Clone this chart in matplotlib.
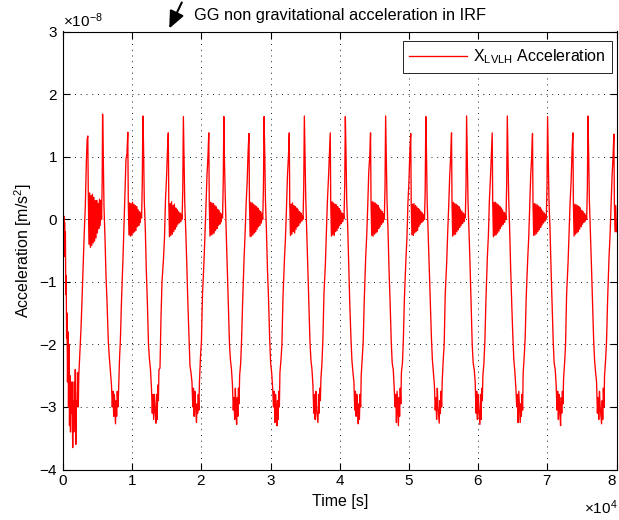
import numpy as np
import matplotlib
matplotlib.use("Agg")
import matplotlib.pyplot as plt
from matplotlib.ticker import ScalarFormatter

plt.rcParams['font.family'] = ['Liberation Sans', 'DejaVu Sans']
plt.rcParams['mathtext.fontset'] = 'custom'
plt.rcParams['mathtext.rm'] = 'Liberation Sans'
plt.rcParams['mathtext.it'] = 'Liberation Sans:italic'
plt.rcParams['mathtext.default'] = 'regular'
plt.rcParams['axes.unicode_minus'] = False

# acceleration values are in units of 1e-8 m/s^2, time in s

# start-up transient and first orbit (read point by point)
start_t = [0, 58, 116, 173, 231, 289, 347, 405, 462, 520,
           578, 650, 723, 795, 867, 939, 1012, 1084, 1156, 1228,
           1301, 1402, 1474, 1561, 1633, 1705, 1777, 1850, 1922, 2023,
           2095, 2211, 2283, 2457, 2601, 2746, 2933, 3078, 3223, 3396,
           3497, 3584, 3656, 3757, 3858, 3959, 4060, 4162, 4263, 4364,
           4465, 4566, 4667, 4769, 4870, 4971, 5072, 5173, 5274, 5375,
           5477, 5578, 5664, 5722, 5809, 5925, 6069, 6214, 6358, 6546,
           6690, 6864, 7008, 7124, 7225, 7326, 7427, 7514]
start_v = [0.70, -0.50, 0.05, -0.55, -0.05, -0.60, -0.20, -1.20, -0.90, -1.90,
           -1.50, -2.60, -1.80, -3.00, -2.00, -3.30, -2.50, -3.40, -2.70, -3.10,
           -2.60, -3.65, -2.90, -3.40, -2.60, -3.30, -2.40, -3.60, -2.90, -3.00,
           -2.45, -3.00, -2.50, -2.10, -1.75, -1.30, -0.65, -0.20, 0.20, 1.00,
           1.28, 1.33, 0.40, -0.40, 0.42, -0.45, 0.38, -0.42, 0.40, -0.38,
           0.35, -0.35, 0.30, -0.30, 0.30, -0.22, 0.25, -0.15, 0.32, -0.10,
           0.30, 0.00, 0.60, 1.68, 1.10, 0.20, -0.30, -0.90, -1.30, -1.95,
           -2.20, -2.45, -2.65, -3.00, -2.75, -3.15, -2.80, -3.05]

# time of each trough (s)
trough_t = [7586, 13439, 19291, 25100, 30923, 36848, 42671,
            48480, 54375, 60257, 66080, 71918, 77842]

# sample times relative to the trough (s)
rise_dt = [0, 90, 170, 260, 350, 430, 580, 720, 870, 1080, 1230, 1370, 1520, 1660, 1780]
burst_dt = [1850, 1950, 2050, 2150, 2250, 2360, 2460, 2560, 2660, 2760,
            2860, 2960, 3060, 3160, 3270, 3370, 3470, 3570, 3670, 3770]
fall_dt = [3870, 3960, 4050, 4160, 4310, 4450, 4600, 4770, 4910, 5060,
           5200, 5320, 5420, 5520, 5620, 5720]

rise_v = [
    [-3.27, -2.9, -3.15, -2.75, -3.0, -2.8, -2.24, -1.9, -1.3, -0.64, -0.1, 0.4, 0.96, 1.05, 1.39],
    [-3.26, -2.8, -3.2, -2.65, -2.9, -2.4, -2.38, -1.6, -1.0, -0.64, -0.3, 0.3, 0.65, 1.1, 1.38],
    [-3.25, -2.95, -3.1, -2.8, -3.05, -2.6, -2.2, -1.95, -1.2, -0.7, -0.25, 0.2, 0.7, 1.0, 1.38],
    [-3.28, -2.85, -3.15, -2.7, -2.95, -2.5, -2.3, -1.9, -1.3, -0.6, -0.2, 0.25, 0.6, 1.1, 1.37],
    [-3.3, -2.9, -3.2, -2.75, -3.0, -2.45, -2.25, -2.0, -1.25, -0.65, -0.3, 0.15, 0.7, 1.0, 1.38],
    [-3.25, -2.8, -3.1, -2.7, -2.9, -2.55, -2.3, -1.9, -1.2, -0.7, -0.2, 0.3, 0.65, 1.05, 1.38],
    [-3.27, -2.95, -3.2, -2.8, -3.0, -2.5, -2.2, -1.95, -1.3, -0.6, -0.25, 0.2, 0.75, 1.0, 1.38],
    [-3.3, -2.85, -3.15, -2.7, -2.95, -2.45, -2.3, -1.9, -1.25, -0.65, -0.3, 0.25, 0.6, 1.1, 1.37],
    [-3.26, -2.9, -3.1, -2.75, -3.0, -2.6, -2.25, -2.0, -1.2, -0.7, -0.2, 0.2, 0.7, 1.0, 1.38],
    [-3.28, -2.8, -3.2, -2.7, -2.9, -2.5, -2.3, -1.95, -1.3, -0.6, -0.25, 0.3, 0.65, 1.05, 1.38],
    [-3.25, -2.95, -3.15, -2.8, -3.05, -2.45, -2.2, -1.9, -1.25, -0.65, -0.3, 0.2, 0.7, 1.0, 1.37],
    [-3.3, -2.85, -3.1, -2.75, -2.95, -2.55, -2.3, -2.0, -1.2, -0.7, -0.2, 0.25, 0.6, 1.1, 1.38],
    [-3.27, -2.9, -3.2, -2.7, -3.0, -2.5, -2.25, -1.95, -1.3, -0.6, -0.25, 0.2, 0.7, 1.0, 1.36],
]
burst_v = [
    [0.27, -0.25, 0.26, -0.27, 0.25, -0.26, 0.27, -0.22, 0.24, -0.2, 0.22, -0.18, 0.2, -0.12, 0.15, -0.1, 0.12, -0.05, 0.1, 0.02],
    [0.3, -0.28, 0.25, -0.26, 0.28, -0.24, 0.22, -0.2, 0.24, -0.16, 0.18, -0.12, 0.15, -0.08, 0.12, -0.06, 0.1, -0.04, 0.08, 0.0],
    [0.26, -0.27, 0.27, -0.25, 0.26, -0.24, 0.25, -0.22, 0.22, -0.18, 0.2, -0.15, 0.16, -0.1, 0.14, -0.08, 0.1, -0.04, 0.08, 0.02],
    [0.28, -0.28, 0.27, -0.27, 0.26, -0.25, 0.24, -0.22, 0.22, -0.2, 0.2, -0.16, 0.18, -0.12, 0.14, -0.1, 0.12, -0.06, 0.08, 0.0],
    [0.25, -0.26, 0.24, -0.24, 0.26, -0.2, 0.22, -0.22, 0.2, -0.16, 0.18, -0.12, 0.15, -0.1, 0.12, -0.06, 0.1, -0.03, 0.06, 0.0],
    [0.27, -0.27, 0.28, -0.25, 0.26, -0.26, 0.24, -0.2, 0.23, -0.18, 0.2, -0.14, 0.17, -0.1, 0.14, -0.07, 0.1, -0.04, 0.08, 0.01],
    [0.28, -0.26, 0.28, -0.27, 0.27, -0.24, 0.26, -0.22, 0.24, -0.2, 0.22, -0.15, 0.18, -0.12, 0.15, -0.08, 0.12, -0.05, 0.09, 0.0],
    [0.26, -0.25, 0.24, -0.26, 0.25, -0.22, 0.22, -0.2, 0.2, -0.18, 0.17, -0.12, 0.15, -0.08, 0.12, -0.05, 0.1, -0.03, 0.07, 0.0],
    [0.27, -0.27, 0.27, -0.25, 0.25, -0.24, 0.24, -0.2, 0.22, -0.17, 0.2, -0.13, 0.16, -0.1, 0.13, -0.07, 0.1, -0.04, 0.08, 0.02],
    [0.28, -0.28, 0.27, -0.26, 0.27, -0.25, 0.25, -0.22, 0.23, -0.19, 0.21, -0.15, 0.18, -0.11, 0.15, -0.08, 0.11, -0.05, 0.08, 0.0],
    [0.26, -0.26, 0.25, -0.25, 0.24, -0.23, 0.23, -0.2, 0.21, -0.17, 0.19, -0.13, 0.16, -0.09, 0.13, -0.06, 0.1, -0.03, 0.07, 0.01],
    [0.25, -0.27, 0.24, -0.24, 0.23, -0.22, 0.22, -0.2, 0.2, -0.16, 0.18, -0.12, 0.14, -0.08, 0.12, -0.05, 0.09, -0.03, 0.06, 0.0],
    [0.25, -0.2, 0.22, -0.2],
]
fall_v = [
    [0.55, 1.65, 1.2, 0.3, -0.15, -0.8, -1.3, -2.0, -2.24, -2.4, -2.7, -3.1, -2.8, -3.2, -2.8, -3.05],
    [0.45, 1.64, 1.0, 0.25, -0.2, -0.7, -1.31, -1.9, -2.34, -2.45, -2.6, -3.0, -2.7, -3.15, -2.75, -3.0],
    [0.6, 1.64, 0.9, 0.36, -0.25, -0.75, -1.34, -2.0, -2.25, -2.4, -2.65, -3.05, -2.85, -3.2, -2.7, -3.1],
    [0.5, 1.64, 1.1, 0.3, -0.2, -0.8, -1.25, -1.9, -2.3, -2.45, -2.7, -3.0, -2.75, -3.25, -2.8, -3.0],
    [0.5, 1.65, 1.05, 0.35, -0.2, -0.7, -1.3, -1.95, -2.25, -2.4, -2.65, -3.1, -2.8, -3.2, -2.75, -3.05],
    [0.55, 1.64, 1.1, 0.3, -0.15, -0.75, -1.35, -1.9, -2.25, -2.45, -2.6, -3.05, -2.75, -3.15, -2.8, -3.0],
    [0.5, 1.65, 1.0, 0.3, -0.2, -0.8, -1.3, -1.95, -2.3, -2.4, -2.7, -3.0, -2.8, -3.25, -2.75, -3.05],
    [0.45, 1.64, 1.1, 0.25, -0.25, -0.75, -1.3, -1.9, -2.25, -2.45, -2.65, -3.05, -2.85, -3.2, -2.7, -3.0],
    [0.5, 1.65, 1.05, 0.3, -0.2, -0.7, -1.3, -2.0, -2.3, -2.4, -2.6, -3.1, -2.75, -3.2, -2.8, -3.05],
    [0.55, 1.65, 1.1, 0.35, -0.2, -0.8, -1.35, -1.9, -2.25, -2.45, -2.7, -3.0, -2.8, -3.25, -2.75, -3.0],
    [0.5, 1.64, 1.0, 0.3, -0.15, -0.75, -1.3, -1.95, -2.3, -2.4, -2.65, -3.05, -2.75, -3.2, -2.8, -3.05],
    [0.5, 1.65, 1.1, 0.3, -0.2, -0.7, -1.25, -1.9, -2.25, -2.45, -2.6, -3.1, -2.85, -3.2, -2.75, -3.0],
]

# assemble the time series
t = list(start_t)
acc = list(start_v)
for i, t0 in enumerate(trough_t):
    for dt, v in zip(rise_dt, rise_v[i]):
        t.append(t0 + dt); acc.append(v)
    for dt, v in zip(burst_dt, burst_v[i]):
        t.append(t0 + dt); acc.append(v)
    if i < len(fall_v):
        for dt, v in zip(fall_dt, fall_v[i]):
            t.append(t0 + dt); acc.append(v)
t = np.array(t, dtype=float)
acc = np.array(acc) * 1e-8

fig = plt.figure(figsize=(6.19, 5.20), dpi=100)
ax = fig.add_axes([63/619, 50.5/520, 553.5/619, 438/520])

ax.plot(t, acc, color='red', lw=0.95, label=r'X$_{LVLH}$ Acceleration')

ax.set_xlim(0, 8e4)
ax.set_ylim(-4e-8, 3e-8)
ax.set_xticks(np.arange(0, 8.01e4, 1e4))
ax.set_yticks(np.arange(-4e-8, 3.01e-8, 1e-8))
for axis in (ax.xaxis, ax.yaxis):
    fmt = ScalarFormatter(useMathText=True)
    fmt.set_powerlimits((0, 0))
    axis.set_major_formatter(fmt)

ax.grid(True, color='k', lw=0.6, linestyle=(0, (1.2, 5.7)))
ax.tick_params(direction='in', top=True, right=True, length=5, width=0.8, labelsize=11)
for s in ax.spines.values():
    s.set_linewidth(0.8)
# last x tick label sits at the figure edge; keep it inside
ax.xaxis.get_majorticklabels()[-1].set_horizontalalignment('right')

ax.set_xlabel('Time [s]', fontsize=11.5)
ax.set_ylabel(r'Acceleration [m/s$^2$]', fontsize=11.5)
ax.set_title('GG non gravitational acceleration in IRF', fontsize=11.8, pad=8)
ax.yaxis.get_offset_text().set_fontsize(11)
# x multiplier sits low at the bottom-right corner, as in the original
ax.xaxis.get_offset_text().set_visible(False)
fig.text(618/619, 3/520, r'$\times10^{4}$', fontsize=11, ha='right', va='bottom')

leg = ax.legend(loc='upper right', bbox_to_anchor=(0.992, 0.978), fontsize=11.5,
                fancybox=False, framealpha=1, edgecolor='k', handlelength=3.6,
                handletextpad=0.4, borderaxespad=0)
leg.get_frame().set_linewidth(0.6)

ax.annotate('', xy=(168/619, 489/520), xytext=(183/619, 1.0),
            xycoords='figure fraction', textcoords='figure fraction',
            arrowprops=dict(arrowstyle='-|>,head_length=0.8,head_width=0.35',
                            mutation_scale=13, lw=1.5, color='k'),
            annotation_clip=False)

fig.savefig('out.png', dpi=100)
